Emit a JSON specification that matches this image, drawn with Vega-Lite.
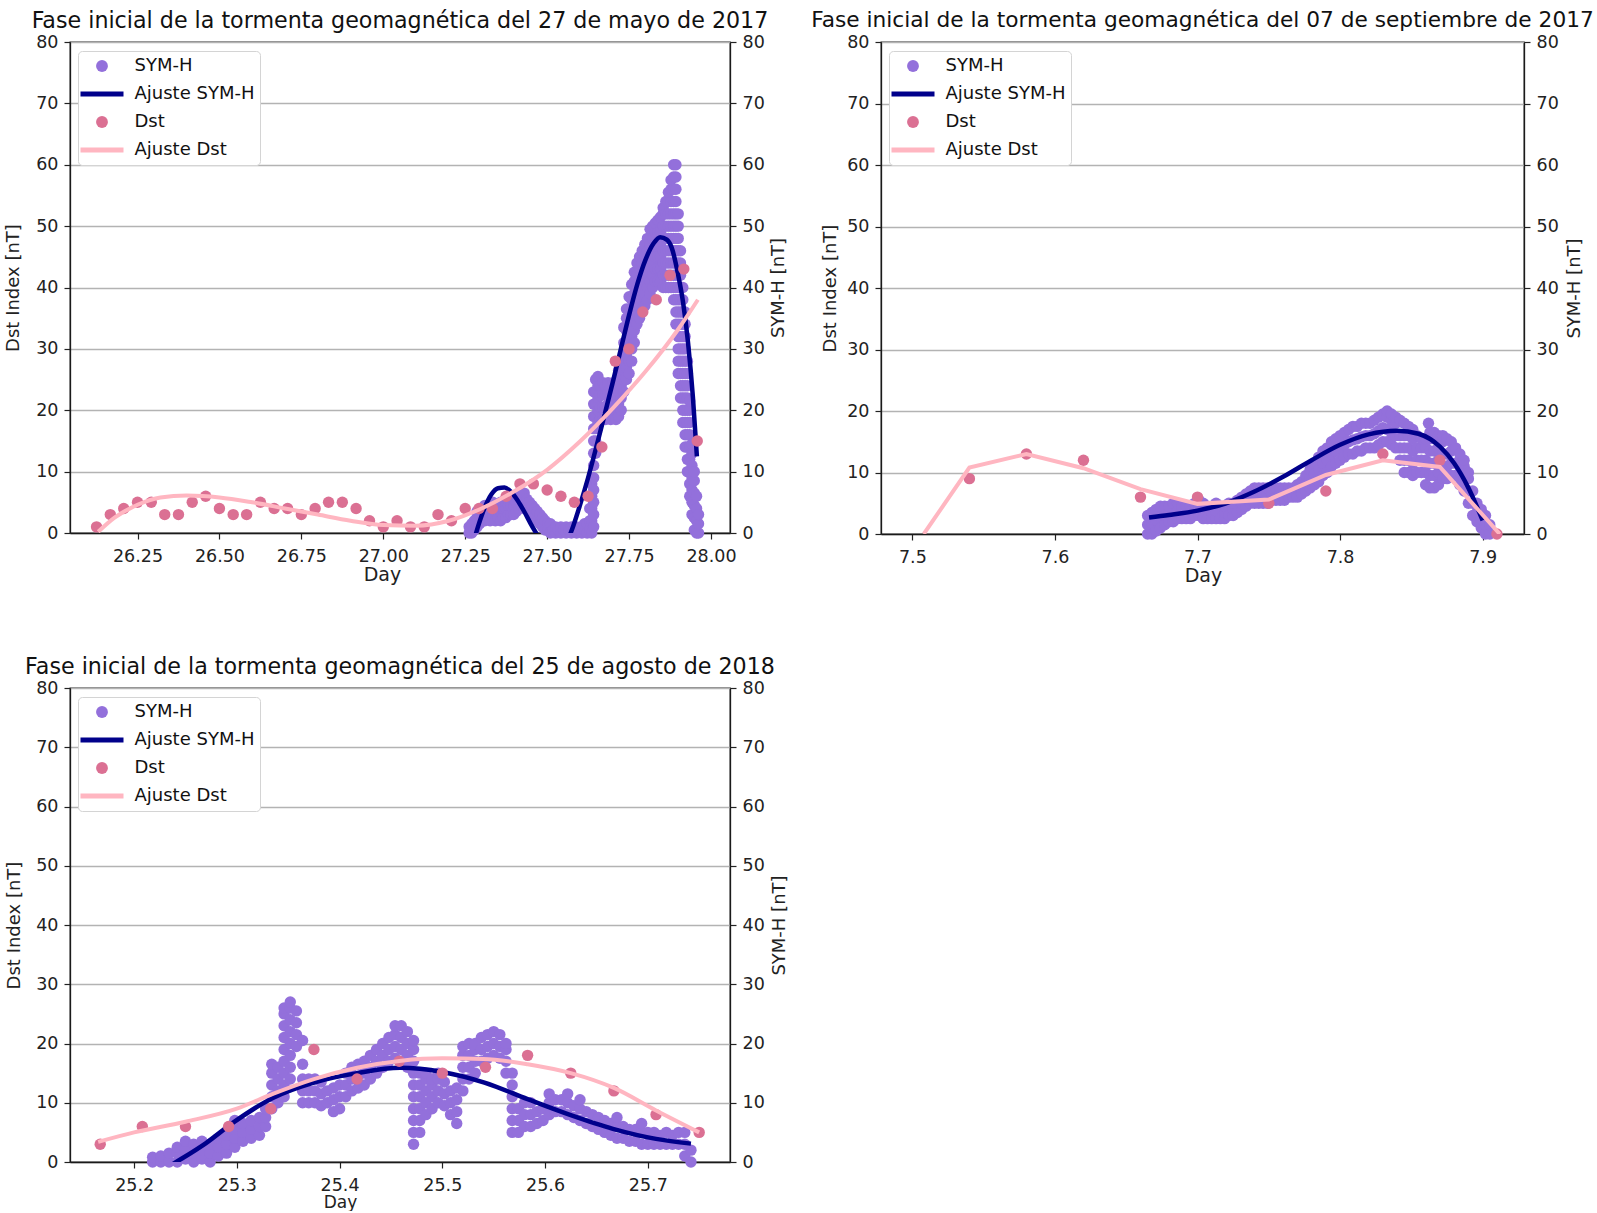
{
  "$schema": "https://vega.github.io/schema/vega-lite/v6.json",
  "background": "white",
  "padding": {"left": 3, "top": 9, "right": 2, "bottom": 0},
  "config": {
    "font": "DejaVu Sans",
    "view": {"stroke": "#1a1a1a", "strokeWidth": 1.3},
    "axis": {
      "labelFont": "DejaVu Sans", "labelFontSize": 17.5, "labelColor": "#222",
      "titleFont": "DejaVu Sans", "titleFontSize": 18, "titleFontWeight": "normal", "titleColor": "#222",
      "tickColor": "#222", "tickSize": 6, "tickWidth": 1.2,
      "domainColor": "#1a1a1a", "domainWidth": 1.3, "labelPadding": 6,
      "gridColor": "#b3b3b3", "gridWidth": 1.4, "gridOpacity": 1
    },
    "axisX": {"labelPadding": 8},
    "legend": {"labelFont": "DejaVu Sans", "labelFontSize": 18, "labelColor": "#111"},
    "title": {"font": "DejaVu Sans", "fontSize": 22.2, "fontWeight": "normal", "color": "#111", "offset": 1, "anchor": "middle"}
  },
  "datasets": {
    "mayo_symh": [
      {"day":27.262,"nT":0},{"day":27.262,"nT":1},{"day":27.27,"nT":0},{"day":27.27,"nT":1.5},{"day":27.278,"nT":0.5},{"day":27.278,"nT":2},
      {"day":27.286,"nT":1},{"day":27.286,"nT":2.5},{"day":27.286,"nT":3.5},{"day":27.294,"nT":1.5},{"day":27.294,"nT":3},
      {"day":27.302,"nT":2},{"day":27.302,"nT":3.5},{"day":27.31,"nT":2},{"day":27.31,"nT":3.5},{"day":27.31,"nT":4.5},
      {"day":27.318,"nT":2.5},{"day":27.318,"nT":4},{"day":27.326,"nT":2},{"day":27.326,"nT":3.5},
      {"day":27.334,"nT":2.5},{"day":27.334,"nT":4},{"day":27.334,"nT":5},{"day":27.342,"nT":2},{"day":27.342,"nT":3.5},{"day":27.342,"nT":4.5},
      {"day":27.35,"nT":2.5},{"day":27.35,"nT":4},{"day":27.358,"nT":2},{"day":27.358,"nT":3.5},{"day":27.358,"nT":5},
      {"day":27.366,"nT":2.5},{"day":27.366,"nT":4},{"day":27.374,"nT":2.5},{"day":27.374,"nT":4},{"day":27.374,"nT":5},
      {"day":27.382,"nT":3},{"day":27.382,"nT":4.5},{"day":27.39,"nT":3},{"day":27.39,"nT":4.5},
      {"day":27.398,"nT":3},{"day":27.398,"nT":4.5},{"day":27.398,"nT":5.5},{"day":27.406,"nT":3.5},{"day":27.406,"nT":5},
      {"day":27.414,"nT":4},{"day":27.414,"nT":5.5},{"day":27.414,"nT":6.5},{"day":27.422,"nT":4.5},{"day":27.422,"nT":6},
      {"day":27.43,"nT":4},{"day":27.43,"nT":5.5},{"day":27.43,"nT":6.5},{"day":27.438,"nT":4},{"day":27.438,"nT":5.5},
      {"day":27.446,"nT":3.5},{"day":27.446,"nT":5},{"day":27.454,"nT":3},{"day":27.454,"nT":4.5},
      {"day":27.462,"nT":2.5},{"day":27.462,"nT":4},{"day":27.47,"nT":2},{"day":27.47,"nT":3.5},
      {"day":27.478,"nT":1.5},{"day":27.478,"nT":3},{"day":27.486,"nT":1},{"day":27.486,"nT":2.5},
      {"day":27.494,"nT":0.5},{"day":27.494,"nT":2},{"day":27.502,"nT":0.5},{"day":27.502,"nT":1.5},
      {"day":27.51,"nT":0},{"day":27.51,"nT":1.5},{"day":27.518,"nT":0.5},{"day":27.526,"nT":0},{"day":27.526,"nT":1},
      {"day":27.534,"nT":0.5},{"day":27.542,"nT":0},{"day":27.542,"nT":1},{"day":27.55,"nT":0.5},{"day":27.558,"nT":0},{"day":27.558,"nT":1},
      {"day":27.566,"nT":0.5},{"day":27.574,"nT":0},{"day":27.574,"nT":1},{"day":27.582,"nT":0.5},{"day":27.59,"nT":0},{"day":27.59,"nT":1},
      {"day":27.598,"nT":0.5},{"day":27.606,"nT":0},{"day":27.606,"nT":1},{"day":27.614,"nT":0.5},{"day":27.614,"nT":1.5},
      {"day":27.622,"nT":0},{"day":27.622,"nT":1.5},{"day":27.63,"nT":0.5},{"day":27.63,"nT":2},{"day":27.63,"nT":4},
      {"day":27.636,"nT":0},{"day":27.636,"nT":2},{"day":27.636,"nT":4},{"day":27.636,"nT":6},{"day":27.636,"nT":8},
      {"day":27.642,"nT":1},{"day":27.642,"nT":3},{"day":27.642,"nT":5},{"day":27.642,"nT":7},{"day":27.642,"nT":9},{"day":27.642,"nT":11},{"day":27.642,"nT":13},{"day":27.642,"nT":15},{"day":27.642,"nT":17},{"day":27.642,"nT":19},{"day":27.642,"nT":21},{"day":27.642,"nT":23},
      {"day":27.648,"nT":13},{"day":27.648,"nT":15},{"day":27.648,"nT":17},{"day":27.648,"nT":19},{"day":27.648,"nT":21},{"day":27.648,"nT":23},{"day":27.648,"nT":25},
      {"day":27.655,"nT":18},{"day":27.655,"nT":20},{"day":27.655,"nT":22},{"day":27.655,"nT":24},{"day":27.655,"nT":25.5},
      {"day":27.662,"nT":18.5},{"day":27.662,"nT":20.5},{"day":27.662,"nT":22.5},{"day":27.662,"nT":24},
      {"day":27.67,"nT":18.5},{"day":27.67,"nT":20.5},{"day":27.67,"nT":22.5},{"day":27.67,"nT":24.5},
      {"day":27.678,"nT":18.5},{"day":27.678,"nT":20.5},{"day":27.678,"nT":22.5},{"day":27.678,"nT":24},
      {"day":27.686,"nT":19},{"day":27.686,"nT":21},{"day":27.686,"nT":23},{"day":27.686,"nT":24.5},
      {"day":27.694,"nT":18.5},{"day":27.694,"nT":20.5},{"day":27.694,"nT":22.5},
      {"day":27.702,"nT":19},{"day":27.702,"nT":21},{"day":27.702,"nT":23},{"day":27.702,"nT":24.5},
      {"day":27.71,"nT":18.5},{"day":27.71,"nT":20.5},{"day":27.71,"nT":22.5},{"day":27.71,"nT":24},
      {"day":27.718,"nT":19},{"day":27.718,"nT":21},{"day":27.718,"nT":23},{"day":27.718,"nT":25},{"day":27.718,"nT":26.5},
      {"day":27.726,"nT":20},{"day":27.726,"nT":22},{"day":27.726,"nT":24},{"day":27.726,"nT":26},{"day":27.726,"nT":28},
      {"day":27.734,"nT":23},{"day":27.734,"nT":25},{"day":27.734,"nT":27},{"day":27.734,"nT":29},{"day":27.734,"nT":31},{"day":27.734,"nT":33.5},
      {"day":27.742,"nT":25},{"day":27.742,"nT":27},{"day":27.742,"nT":29},{"day":27.742,"nT":31},{"day":27.742,"nT":33},{"day":27.742,"nT":35},{"day":27.742,"nT":36.5},
      {"day":27.75,"nT":26},{"day":27.75,"nT":28},{"day":27.75,"nT":30},{"day":27.75,"nT":32},{"day":27.75,"nT":34},{"day":27.75,"nT":36},{"day":27.75,"nT":38.5},
      {"day":27.758,"nT":28},{"day":27.758,"nT":30},{"day":27.758,"nT":32},{"day":27.758,"nT":34},{"day":27.758,"nT":36},{"day":27.758,"nT":38},{"day":27.758,"nT":40.5},
      {"day":27.766,"nT":31},{"day":27.766,"nT":33},{"day":27.766,"nT":35},{"day":27.766,"nT":37},{"day":27.766,"nT":39},{"day":27.766,"nT":41},{"day":27.766,"nT":42.5},
      {"day":27.774,"nT":34},{"day":27.774,"nT":36},{"day":27.774,"nT":38},{"day":27.774,"nT":40},{"day":27.774,"nT":42},{"day":27.774,"nT":44},
      {"day":27.782,"nT":35},{"day":27.782,"nT":37},{"day":27.782,"nT":39},{"day":27.782,"nT":41},{"day":27.782,"nT":43},{"day":27.782,"nT":45},
      {"day":27.79,"nT":36},{"day":27.79,"nT":38},{"day":27.79,"nT":40},{"day":27.79,"nT":42},{"day":27.79,"nT":44},{"day":27.79,"nT":46},
      {"day":27.798,"nT":37},{"day":27.798,"nT":39},{"day":27.798,"nT":41},{"day":27.798,"nT":43},{"day":27.798,"nT":45},{"day":27.798,"nT":47},
      {"day":27.806,"nT":38},{"day":27.806,"nT":40},{"day":27.806,"nT":42},{"day":27.806,"nT":44},{"day":27.806,"nT":46},{"day":27.806,"nT":48},
      {"day":27.814,"nT":39},{"day":27.814,"nT":41},{"day":27.814,"nT":43},{"day":27.814,"nT":45},{"day":27.814,"nT":47},{"day":27.814,"nT":49.5},
      {"day":27.822,"nT":40},{"day":27.822,"nT":42},{"day":27.822,"nT":44},{"day":27.822,"nT":46},{"day":27.822,"nT":48},{"day":27.822,"nT":50},
      {"day":27.83,"nT":41},{"day":27.83,"nT":43},{"day":27.83,"nT":45},{"day":27.83,"nT":47},{"day":27.83,"nT":49},{"day":27.83,"nT":50.5},
      {"day":27.838,"nT":41},{"day":27.838,"nT":43},{"day":27.838,"nT":45},{"day":27.838,"nT":47},{"day":27.838,"nT":49},{"day":27.838,"nT":51},
      {"day":27.846,"nT":41},{"day":27.846,"nT":43},{"day":27.846,"nT":45},{"day":27.846,"nT":47},{"day":27.846,"nT":49},{"day":27.846,"nT":51.5},
      {"day":27.854,"nT":40},{"day":27.854,"nT":42},{"day":27.854,"nT":44},{"day":27.854,"nT":46},{"day":27.854,"nT":48},{"day":27.854,"nT":50},{"day":27.854,"nT":52},{"day":27.854,"nT":53},
      {"day":27.862,"nT":40},{"day":27.862,"nT":42},{"day":27.862,"nT":44},{"day":27.862,"nT":46},{"day":27.862,"nT":48},{"day":27.862,"nT":50},{"day":27.862,"nT":52},{"day":27.862,"nT":54},
      {"day":27.87,"nT":40},{"day":27.87,"nT":42},{"day":27.87,"nT":44},{"day":27.87,"nT":46},{"day":27.87,"nT":48},{"day":27.87,"nT":50},{"day":27.87,"nT":52},{"day":27.87,"nT":54},{"day":27.87,"nT":55.5},
      {"day":27.878,"nT":40},{"day":27.878,"nT":42},{"day":27.878,"nT":44},{"day":27.878,"nT":46},{"day":27.878,"nT":48},{"day":27.878,"nT":50},{"day":27.878,"nT":52},{"day":27.878,"nT":54},{"day":27.878,"nT":56},{"day":27.878,"nT":57.5},
      {"day":27.886,"nT":38},{"day":27.886,"nT":40},{"day":27.886,"nT":42},{"day":27.886,"nT":44},{"day":27.886,"nT":46},{"day":27.886,"nT":48},{"day":27.886,"nT":50},{"day":27.886,"nT":52},{"day":27.886,"nT":54},{"day":27.886,"nT":56},{"day":27.886,"nT":58},{"day":27.886,"nT":60},
      {"day":27.893,"nT":34},{"day":27.893,"nT":36},{"day":27.893,"nT":38},{"day":27.893,"nT":40},{"day":27.893,"nT":42},{"day":27.893,"nT":44},{"day":27.893,"nT":46},{"day":27.893,"nT":48},{"day":27.893,"nT":50},{"day":27.893,"nT":52},{"day":27.893,"nT":54},{"day":27.893,"nT":56},{"day":27.893,"nT":58},{"day":27.893,"nT":60},
      {"day":27.9,"nT":26},{"day":27.9,"nT":28},{"day":27.9,"nT":30},{"day":27.9,"nT":32},{"day":27.9,"nT":34},{"day":27.9,"nT":36},{"day":27.9,"nT":38},{"day":27.9,"nT":40},{"day":27.9,"nT":42},{"day":27.9,"nT":44},{"day":27.9,"nT":46},{"day":27.9,"nT":48},{"day":27.9,"nT":50},{"day":27.9,"nT":52},
      {"day":27.907,"nT":22},{"day":27.907,"nT":24},{"day":27.907,"nT":26},{"day":27.907,"nT":28},{"day":27.907,"nT":30},{"day":27.907,"nT":32},{"day":27.907,"nT":34},{"day":27.907,"nT":36},{"day":27.907,"nT":38},{"day":27.907,"nT":40},{"day":27.907,"nT":42},{"day":27.907,"nT":44},{"day":27.907,"nT":46},
      {"day":27.914,"nT":18},{"day":27.914,"nT":20},{"day":27.914,"nT":22},{"day":27.914,"nT":24},{"day":27.914,"nT":26},{"day":27.914,"nT":28},{"day":27.914,"nT":30},{"day":27.914,"nT":32},{"day":27.914,"nT":34},{"day":27.914,"nT":36},{"day":27.914,"nT":38},{"day":27.914,"nT":40},
      {"day":27.921,"nT":14},{"day":27.921,"nT":16},{"day":27.921,"nT":18},{"day":27.921,"nT":20},{"day":27.921,"nT":22},{"day":27.921,"nT":24},{"day":27.921,"nT":26},{"day":27.921,"nT":28},{"day":27.921,"nT":30},{"day":27.921,"nT":32},{"day":27.921,"nT":34},{"day":27.921,"nT":36},
      {"day":27.928,"nT":10},{"day":27.928,"nT":12},{"day":27.928,"nT":14},{"day":27.928,"nT":16},{"day":27.928,"nT":18},{"day":27.928,"nT":20},{"day":27.928,"nT":22},{"day":27.928,"nT":24},{"day":27.928,"nT":26},{"day":27.928,"nT":28},
      {"day":27.935,"nT":6},{"day":27.935,"nT":8},{"day":27.935,"nT":10},{"day":27.935,"nT":12},{"day":27.935,"nT":14},{"day":27.935,"nT":16},{"day":27.935,"nT":18},{"day":27.935,"nT":20},{"day":27.935,"nT":21.5},
      {"day":27.942,"nT":3},{"day":27.942,"nT":5},{"day":27.942,"nT":7},{"day":27.942,"nT":9},{"day":27.942,"nT":11},{"day":27.942,"nT":13},{"day":27.942,"nT":14.5},
      {"day":27.949,"nT":0.5},{"day":27.949,"nT":2.5},{"day":27.949,"nT":4.5},{"day":27.949,"nT":6.5},{"day":27.949,"nT":8.5},{"day":27.949,"nT":10},
      {"day":27.956,"nT":0},{"day":27.956,"nT":2},{"day":27.956,"nT":4},{"day":27.956,"nT":6},{"day":27.962,"nT":0},{"day":27.962,"nT":1.5},{"day":27.962,"nT":3}
    ],
    "mayo_symh_ajuste": [
      {"day":27.26,"nT":-4},{"day":27.275,"nT":-1.5},{"day":27.29,"nT":1.2},{"day":27.31,"nT":4.2},{"day":27.33,"nT":6.3},
      {"day":27.35,"nT":7.3},{"day":27.37,"nT":7.4},{"day":27.39,"nT":6.7},{"day":27.41,"nT":5.3},{"day":27.43,"nT":3.5},
      {"day":27.45,"nT":1.5},{"day":27.47,"nT":-0.3},{"day":27.5,"nT":-2.5},{"day":27.53,"nT":-3.3},{"day":27.56,"nT":-1.5},
      {"day":27.58,"nT":1.2},{"day":27.6,"nT":4.5},{"day":27.625,"nT":9},{"day":27.65,"nT":14},{"day":27.675,"nT":19.2},
      {"day":27.7,"nT":24.5},{"day":27.725,"nT":30},{"day":27.75,"nT":35.5},{"day":27.775,"nT":40.5},{"day":27.8,"nT":44.5},
      {"day":27.825,"nT":47.2},{"day":27.845,"nT":48.2},{"day":27.865,"nT":47.8},{"day":27.88,"nT":46.5},{"day":27.9,"nT":42},
      {"day":27.915,"nT":37.5},{"day":27.93,"nT":31},{"day":27.945,"nT":22},{"day":27.957,"nT":12.5}
    ],
    "mayo_dst": [
      {"day":26.125,"nT":1},{"day":26.167,"nT":3},{"day":26.208,"nT":4},{"day":26.25,"nT":5},{"day":26.292,"nT":5},
      {"day":26.333,"nT":3},{"day":26.375,"nT":3},{"day":26.417,"nT":5},{"day":26.458,"nT":6},{"day":26.5,"nT":4},
      {"day":26.542,"nT":3},{"day":26.583,"nT":3},{"day":26.625,"nT":5},{"day":26.667,"nT":4},{"day":26.708,"nT":4},
      {"day":26.75,"nT":3},{"day":26.792,"nT":4},{"day":26.833,"nT":5},{"day":26.875,"nT":5},{"day":26.917,"nT":4},
      {"day":26.958,"nT":2},{"day":27.0,"nT":1},{"day":27.042,"nT":2},{"day":27.083,"nT":1},{"day":27.125,"nT":1},
      {"day":27.167,"nT":3},{"day":27.208,"nT":2},{"day":27.25,"nT":4},{"day":27.292,"nT":4},{"day":27.333,"nT":4},
      {"day":27.375,"nT":6},{"day":27.417,"nT":8},{"day":27.458,"nT":8},{"day":27.5,"nT":7},{"day":27.542,"nT":6},
      {"day":27.583,"nT":5},{"day":27.625,"nT":6},{"day":27.667,"nT":14},{"day":27.708,"nT":28},{"day":27.75,"nT":30},
      {"day":27.792,"nT":36},{"day":27.833,"nT":38},{"day":27.875,"nT":42},{"day":27.917,"nT":43},{"day":27.958,"nT":15}
    ],
    "mayo_dst_ajuste": [
      {"day":26.13,"nT":0.2},{"day":26.18,"nT":2.5},{"day":26.25,"nT":4.6},{"day":26.32,"nT":5.8},{"day":26.4,"nT":6.1},
      {"day":26.5,"nT":5.8},{"day":26.6,"nT":5.0},{"day":26.7,"nT":4.0},{"day":26.8,"nT":3.0},{"day":26.9,"nT":2.0},
      {"day":27.0,"nT":1.3},{"day":27.1,"nT":1.2},{"day":27.2,"nT":2.0},{"day":27.3,"nT":4.0},{"day":27.4,"nT":6.8},
      {"day":27.5,"nT":10.3},{"day":27.6,"nT":14.9},{"day":27.7,"nT":20.3},{"day":27.8,"nT":26.3},{"day":27.9,"nT":33.2},
      {"day":27.96,"nT":38}
    ],
    "sept_symh": [
      {"day":7.665,"nT":0},{"day":7.665,"nT":1.5},{"day":7.665,"nT":3},{"day":7.668,"nT":0},{"day":7.668,"nT":1.8},{"day":7.668,"nT":3.5},
      {"day":7.671,"nT":0.5},{"day":7.671,"nT":2.3},{"day":7.671,"nT":4},{"day":7.674,"nT":1},{"day":7.674,"nT":2.8},{"day":7.674,"nT":4.5},
      {"day":7.677,"nT":1.5},{"day":7.677,"nT":3},{"day":7.677,"nT":4.5},{"day":7.68,"nT":2},{"day":7.68,"nT":3.3},{"day":7.68,"nT":4.5},
      {"day":7.683,"nT":2},{"day":7.683,"nT":3.5},{"day":7.683,"nT":5},{"day":7.686,"nT":2.5},{"day":7.686,"nT":3.8},{"day":7.686,"nT":5},
      {"day":7.689,"nT":2.5},{"day":7.689,"nT":3.5},{"day":7.689,"nT":4.5},{"day":7.692,"nT":2.5},{"day":7.692,"nT":4.5},
      {"day":7.695,"nT":2.5},{"day":7.695,"nT":3.5},{"day":7.695,"nT":4.5},{"day":7.698,"nT":3},{"day":7.698,"nT":5},
      {"day":7.701,"nT":3},{"day":7.701,"nT":4.3},{"day":7.701,"nT":5.5},{"day":7.704,"nT":2.5},{"day":7.704,"nT":3.8},{"day":7.704,"nT":5},
      {"day":7.707,"nT":2.5},{"day":7.707,"nT":4.5},{"day":7.71,"nT":2.5},{"day":7.71,"nT":3.5},{"day":7.71,"nT":4.5},
      {"day":7.713,"nT":2.5},{"day":7.713,"nT":3.8},{"day":7.713,"nT":5},{"day":7.716,"nT":2.5},{"day":7.716,"nT":4.5},
      {"day":7.719,"nT":2.5},{"day":7.719,"nT":3.5},{"day":7.719,"nT":4.5},{"day":7.722,"nT":3},{"day":7.722,"nT":5},
      {"day":7.725,"nT":3},{"day":7.725,"nT":4},{"day":7.725,"nT":5},{"day":7.728,"nT":3.5},{"day":7.728,"nT":5.5},
      {"day":7.731,"nT":4},{"day":7.731,"nT":5},{"day":7.731,"nT":6},{"day":7.734,"nT":4.5},{"day":7.734,"nT":6.5},
      {"day":7.737,"nT":5},{"day":7.737,"nT":6},{"day":7.737,"nT":7},{"day":7.74,"nT":5},{"day":7.74,"nT":6.3},{"day":7.74,"nT":7.5},
      {"day":7.743,"nT":5},{"day":7.743,"nT":7.5},{"day":7.746,"nT":5},{"day":7.746,"nT":6.3},{"day":7.746,"nT":7.5},
      {"day":7.749,"nT":5},{"day":7.749,"nT":7.5},{"day":7.752,"nT":5.5},{"day":7.752,"nT":6.5},{"day":7.752,"nT":7.5},
      {"day":7.755,"nT":5.5},{"day":7.755,"nT":7.5},{"day":7.758,"nT":5.5},{"day":7.758,"nT":6.5},{"day":7.758,"nT":7.5},
      {"day":7.761,"nT":5.5},{"day":7.761,"nT":7.5},{"day":7.764,"nT":6},{"day":7.764,"nT":7.5},{"day":7.767,"nT":6},{"day":7.767,"nT":7.5},
      {"day":7.77,"nT":6},{"day":7.77,"nT":8},{"day":7.773,"nT":6.5},{"day":7.773,"nT":8.5},
      {"day":7.776,"nT":7},{"day":7.776,"nT":8.3},{"day":7.776,"nT":9.5},{"day":7.779,"nT":7.5},{"day":7.779,"nT":9},{"day":7.779,"nT":10.5},
      {"day":7.782,"nT":8},{"day":7.782,"nT":9.8},{"day":7.782,"nT":11.5},{"day":7.785,"nT":8.5},{"day":7.785,"nT":10.5},{"day":7.785,"nT":12.5},
      {"day":7.788,"nT":9.5},{"day":7.788,"nT":11.5},{"day":7.788,"nT":13.5},{"day":7.791,"nT":10},{"day":7.791,"nT":12},{"day":7.791,"nT":14},
      {"day":7.794,"nT":11},{"day":7.794,"nT":13},{"day":7.794,"nT":15},{"day":7.797,"nT":11.5},{"day":7.797,"nT":13.5},{"day":7.797,"nT":15.5},
      {"day":7.8,"nT":12},{"day":7.8,"nT":14},{"day":7.8,"nT":16},{"day":7.803,"nT":12.5},{"day":7.803,"nT":14.5},{"day":7.803,"nT":16.5},
      {"day":7.806,"nT":13},{"day":7.806,"nT":15},{"day":7.806,"nT":17},{"day":7.809,"nT":13},{"day":7.809,"nT":15.3},{"day":7.809,"nT":17.5},
      {"day":7.812,"nT":13.5},{"day":7.812,"nT":15.5},{"day":7.812,"nT":17.5},{"day":7.815,"nT":13.5},{"day":7.815,"nT":15.8},{"day":7.815,"nT":18},
      {"day":7.818,"nT":14},{"day":7.818,"nT":16},{"day":7.818,"nT":18},{"day":7.821,"nT":14},{"day":7.821,"nT":16},{"day":7.821,"nT":18},
      {"day":7.824,"nT":14},{"day":7.824,"nT":16.3},{"day":7.824,"nT":18.5},{"day":7.827,"nT":14.5},{"day":7.827,"nT":16.8},{"day":7.827,"nT":19},
      {"day":7.83,"nT":15},{"day":7.83,"nT":17.3},{"day":7.83,"nT":19.5},{"day":7.833,"nT":15},{"day":7.833,"nT":17},{"day":7.833,"nT":19},{"day":7.833,"nT":20},
      {"day":7.836,"nT":14.5},{"day":7.836,"nT":16.5},{"day":7.836,"nT":18.5},{"day":7.836,"nT":19.5},
      {"day":7.839,"nT":14},{"day":7.839,"nT":16},{"day":7.839,"nT":18},{"day":7.839,"nT":19},
      {"day":7.842,"nT":12},{"day":7.842,"nT":14},{"day":7.842,"nT":16},{"day":7.842,"nT":18.5},
      {"day":7.845,"nT":10},{"day":7.845,"nT":12},{"day":7.845,"nT":14},{"day":7.845,"nT":16},{"day":7.845,"nT":18},
      {"day":7.848,"nT":10},{"day":7.848,"nT":12},{"day":7.848,"nT":14},{"day":7.848,"nT":16},{"day":7.848,"nT":17.5},
      {"day":7.851,"nT":9.5},{"day":7.851,"nT":11.5},{"day":7.851,"nT":13.5},{"day":7.851,"nT":15.5},{"day":7.851,"nT":17},
      {"day":7.854,"nT":10},{"day":7.854,"nT":12},{"day":7.854,"nT":14},{"day":7.854,"nT":16},
      {"day":7.857,"nT":10},{"day":7.857,"nT":12},{"day":7.857,"nT":14},{"day":7.857,"nT":15.5},
      {"day":7.86,"nT":8},{"day":7.86,"nT":10},{"day":7.86,"nT":12},{"day":7.86,"nT":14},{"day":7.86,"nT":15.5},{"day":7.862,"nT":18},
      {"day":7.863,"nT":7.5},{"day":7.863,"nT":9.5},{"day":7.863,"nT":11.5},{"day":7.863,"nT":13.5},{"day":7.863,"nT":15.5},{"day":7.863,"nT":16.5},
      {"day":7.866,"nT":7.5},{"day":7.866,"nT":9.5},{"day":7.866,"nT":11.5},{"day":7.866,"nT":13.5},{"day":7.866,"nT":15.5},{"day":7.866,"nT":16.5},
      {"day":7.869,"nT":8},{"day":7.869,"nT":10},{"day":7.869,"nT":12},{"day":7.869,"nT":14},{"day":7.869,"nT":16},
      {"day":7.872,"nT":9},{"day":7.872,"nT":11},{"day":7.872,"nT":13},{"day":7.872,"nT":15},{"day":7.872,"nT":16},
      {"day":7.875,"nT":9},{"day":7.875,"nT":11},{"day":7.875,"nT":13},{"day":7.875,"nT":15.5},
      {"day":7.878,"nT":9.5},{"day":7.878,"nT":11.5},{"day":7.878,"nT":13.5},{"day":7.878,"nT":15},
      {"day":7.881,"nT":9.5},{"day":7.881,"nT":11.5},{"day":7.881,"nT":14},
      {"day":7.884,"nT":8},{"day":7.884,"nT":10},{"day":7.884,"nT":12},{"day":7.884,"nT":13},
      {"day":7.887,"nT":7},{"day":7.887,"nT":9},{"day":7.887,"nT":11},{"day":7.887,"nT":12},
      {"day":7.89,"nT":5},{"day":7.89,"nT":7},{"day":7.89,"nT":9},{"day":7.89,"nT":10},
      {"day":7.893,"nT":3},{"day":7.893,"nT":5},{"day":7.893,"nT":7},{"day":7.896,"nT":2},{"day":7.896,"nT":3.5},{"day":7.896,"nT":5},
      {"day":7.899,"nT":1},{"day":7.899,"nT":2.5},{"day":7.899,"nT":4},{"day":7.902,"nT":0},{"day":7.902,"nT":1.5},{"day":7.902,"nT":3},
      {"day":7.905,"nT":0},{"day":7.905,"nT":1.5}
    ],
    "sept_symh_ajuste": [
      {"day":7.666,"nT":2.7},{"day":7.68,"nT":3.1},{"day":7.7,"nT":3.8},{"day":7.72,"nT":5},{"day":7.74,"nT":6.9},
      {"day":7.76,"nT":9.3},{"day":7.78,"nT":12},{"day":7.8,"nT":14.5},{"day":7.82,"nT":16.2},{"day":7.84,"nT":16.8},
      {"day":7.855,"nT":16.3},{"day":7.87,"nT":14.2},{"day":7.88,"nT":11.5},{"day":7.89,"nT":7.5},{"day":7.9,"nT":2.2}
    ],
    "sept_dst": [
      {"day":7.54,"nT":9},{"day":7.58,"nT":13},{"day":7.62,"nT":12},{"day":7.66,"nT":6},{"day":7.7,"nT":6},
      {"day":7.75,"nT":5},{"day":7.79,"nT":7},{"day":7.83,"nT":13},{"day":7.87,"nT":12},{"day":7.91,"nT":0}
    ],
    "sept_dst_ajuste": [
      {"day":7.508,"nT":0},{"day":7.54,"nT":10.8},{"day":7.58,"nT":13},{"day":7.62,"nT":10.7},{"day":7.66,"nT":7.3},
      {"day":7.7,"nT":4.9},{"day":7.75,"nT":5.6},{"day":7.79,"nT":9.6},{"day":7.83,"nT":12},{"day":7.87,"nT":10.9},{"day":7.912,"nT":0}
    ],
    "ago_symh": [
      {"day":25.218,"nT":0},{"day":25.218,"nT":0.8},{"day":25.226,"nT":0},{"day":25.226,"nT":1},{"day":25.234,"nT":0},{"day":25.234,"nT":1.5},
      {"day":25.242,"nT":0},{"day":25.242,"nT":1.5},{"day":25.242,"nT":2.5},{"day":25.25,"nT":0.5},{"day":25.25,"nT":2},{"day":25.25,"nT":3.5},
      {"day":25.258,"nT":0},{"day":25.258,"nT":1.5},{"day":25.258,"nT":3},{"day":25.266,"nT":0.5},{"day":25.266,"nT":2},{"day":25.266,"nT":3.5},
      {"day":25.274,"nT":0},{"day":25.274,"nT":1.5},{"day":25.274,"nT":3},{"day":25.282,"nT":1},{"day":25.282,"nT":2.5},{"day":25.282,"nT":4},
      {"day":25.29,"nT":1.5},{"day":25.29,"nT":3},{"day":25.29,"nT":4.5},{"day":25.298,"nT":2.5},{"day":25.298,"nT":4},{"day":25.298,"nT":5.5},{"day":25.298,"nT":7},
      {"day":25.306,"nT":3.5},{"day":25.306,"nT":5},{"day":25.306,"nT":6.5},{"day":25.314,"nT":4},{"day":25.314,"nT":5.5},{"day":25.314,"nT":7},
      {"day":25.322,"nT":4.5},{"day":25.322,"nT":6},{"day":25.322,"nT":7.5},{"day":25.328,"nT":6},{"day":25.328,"nT":7.5},{"day":25.328,"nT":9},
      {"day":25.334,"nT":9},{"day":25.334,"nT":11},{"day":25.334,"nT":13},{"day":25.334,"nT":15},{"day":25.334,"nT":16.5},
      {"day":25.34,"nT":10},{"day":25.34,"nT":12},{"day":25.34,"nT":14},{"day":25.34,"nT":16},
      {"day":25.346,"nT":11},{"day":25.346,"nT":13},{"day":25.346,"nT":15},{"day":25.346,"nT":17},{"day":25.346,"nT":19},{"day":25.346,"nT":21},{"day":25.346,"nT":23},{"day":25.346,"nT":25},{"day":25.346,"nT":26},
      {"day":25.352,"nT":14},{"day":25.352,"nT":16},{"day":25.352,"nT":18},{"day":25.352,"nT":20},{"day":25.352,"nT":22},{"day":25.352,"nT":24},{"day":25.352,"nT":26},{"day":25.352,"nT":27},
      {"day":25.358,"nT":19.5},{"day":25.358,"nT":21.5},{"day":25.358,"nT":23.5},{"day":25.358,"nT":25.5},
      {"day":25.364,"nT":10},{"day":25.364,"nT":12},{"day":25.364,"nT":14},{"day":25.364,"nT":16.5},{"day":25.364,"nT":20.5},
      {"day":25.37,"nT":10},{"day":25.37,"nT":12},{"day":25.37,"nT":14},{"day":25.376,"nT":10},{"day":25.376,"nT":12},{"day":25.376,"nT":14},
      {"day":25.382,"nT":9.5},{"day":25.382,"nT":11.5},{"day":25.382,"nT":13.5},{"day":25.388,"nT":10},{"day":25.388,"nT":12},
      {"day":25.394,"nT":8.5},{"day":25.394,"nT":10.5},{"day":25.394,"nT":12.5},{"day":25.4,"nT":9},{"day":25.4,"nT":11},{"day":25.4,"nT":13},
      {"day":25.406,"nT":11},{"day":25.406,"nT":13},{"day":25.406,"nT":15},{"day":25.412,"nT":12},{"day":25.412,"nT":14},{"day":25.412,"nT":16},
      {"day":25.418,"nT":12.5},{"day":25.418,"nT":14.5},{"day":25.418,"nT":16.5},{"day":25.424,"nT":13},{"day":25.424,"nT":15},{"day":25.424,"nT":17},
      {"day":25.43,"nT":14},{"day":25.43,"nT":16},{"day":25.43,"nT":18},{"day":25.436,"nT":15},{"day":25.436,"nT":17},{"day":25.436,"nT":19},
      {"day":25.442,"nT":16},{"day":25.442,"nT":18},{"day":25.442,"nT":20},{"day":25.448,"nT":17},{"day":25.448,"nT":19},{"day":25.448,"nT":21},
      {"day":25.454,"nT":17.5},{"day":25.454,"nT":19.5},{"day":25.454,"nT":21.5},{"day":25.454,"nT":23},
      {"day":25.46,"nT":17},{"day":25.46,"nT":19},{"day":25.46,"nT":21},{"day":25.46,"nT":23},
      {"day":25.466,"nT":16},{"day":25.466,"nT":18},{"day":25.466,"nT":20},{"day":25.466,"nT":22},
      {"day":25.472,"nT":3},{"day":25.472,"nT":5},{"day":25.472,"nT":7},{"day":25.472,"nT":9},{"day":25.472,"nT":11},{"day":25.472,"nT":13},{"day":25.472,"nT":15},{"day":25.472,"nT":17},{"day":25.472,"nT":19},{"day":25.472,"nT":20.5},
      {"day":25.478,"nT":5},{"day":25.478,"nT":7},{"day":25.478,"nT":9},{"day":25.478,"nT":11},{"day":25.478,"nT":13},{"day":25.478,"nT":15},
      {"day":25.484,"nT":8},{"day":25.484,"nT":10},{"day":25.484,"nT":12},{"day":25.484,"nT":14},{"day":25.484,"nT":15},
      {"day":25.49,"nT":9},{"day":25.49,"nT":11},{"day":25.49,"nT":13},{"day":25.49,"nT":14},
      {"day":25.496,"nT":10},{"day":25.496,"nT":12},{"day":25.496,"nT":14},{"day":25.496,"nT":15},
      {"day":25.502,"nT":9.5},{"day":25.502,"nT":11.5},{"day":25.502,"nT":13.5},{"day":25.508,"nT":8},{"day":25.508,"nT":10},{"day":25.508,"nT":12},
      {"day":25.514,"nT":6.5},{"day":25.514,"nT":8.5},{"day":25.514,"nT":10.5},{"day":25.514,"nT":12.5},
      {"day":25.52,"nT":12},{"day":25.52,"nT":14},{"day":25.52,"nT":16},{"day":25.52,"nT":18},{"day":25.52,"nT":19.5},
      {"day":25.526,"nT":14},{"day":25.526,"nT":16},{"day":25.526,"nT":18},{"day":25.526,"nT":20},
      {"day":25.532,"nT":15},{"day":25.532,"nT":17},{"day":25.532,"nT":19},{"day":25.532,"nT":20},
      {"day":25.538,"nT":17},{"day":25.538,"nT":19},{"day":25.538,"nT":21},{"day":25.544,"nT":17.5},{"day":25.544,"nT":19.5},{"day":25.544,"nT":21.5},
      {"day":25.55,"nT":18},{"day":25.55,"nT":20},{"day":25.55,"nT":22},{"day":25.556,"nT":17.5},{"day":25.556,"nT":19.5},{"day":25.556,"nT":21.5},
      {"day":25.562,"nT":15},{"day":25.562,"nT":17},{"day":25.562,"nT":19},{"day":25.562,"nT":20},
      {"day":25.568,"nT":5},{"day":25.568,"nT":7},{"day":25.568,"nT":9},{"day":25.568,"nT":11},{"day":25.568,"nT":13},{"day":25.568,"nT":15},
      {"day":25.574,"nT":5},{"day":25.574,"nT":7},{"day":25.574,"nT":9},{"day":25.58,"nT":6},{"day":25.58,"nT":8},{"day":25.58,"nT":10},
      {"day":25.586,"nT":6},{"day":25.586,"nT":8},{"day":25.586,"nT":10},{"day":25.592,"nT":6.5},{"day":25.592,"nT":8.5},
      {"day":25.598,"nT":7},{"day":25.598,"nT":9},{"day":25.604,"nT":8},{"day":25.604,"nT":10},{"day":25.604,"nT":11.5},
      {"day":25.61,"nT":8.5},{"day":25.61,"nT":10.5},{"day":25.616,"nT":8.5},{"day":25.616,"nT":10.5},
      {"day":25.622,"nT":8},{"day":25.622,"nT":10},{"day":25.622,"nT":11.5},{"day":25.628,"nT":7.5},{"day":25.628,"nT":9.5},
      {"day":25.634,"nT":7},{"day":25.634,"nT":9},{"day":25.634,"nT":10.5},{"day":25.64,"nT":6.5},{"day":25.64,"nT":8.5},
      {"day":25.646,"nT":6},{"day":25.646,"nT":8},{"day":25.652,"nT":5.5},{"day":25.652,"nT":7.5},
      {"day":25.658,"nT":5},{"day":25.658,"nT":7},{"day":25.664,"nT":4.5},{"day":25.664,"nT":6.5},
      {"day":25.67,"nT":4},{"day":25.67,"nT":6},{"day":25.67,"nT":7.5},{"day":25.676,"nT":4},{"day":25.676,"nT":6},
      {"day":25.682,"nT":3.5},{"day":25.682,"nT":5.5},{"day":25.688,"nT":3.5},{"day":25.688,"nT":5.5},
      {"day":25.694,"nT":3},{"day":25.694,"nT":5},{"day":25.694,"nT":6.5},{"day":25.7,"nT":3},{"day":25.7,"nT":5},
      {"day":25.706,"nT":3},{"day":25.706,"nT":5},{"day":25.712,"nT":3},{"day":25.712,"nT":4.5},
      {"day":25.718,"nT":3},{"day":25.718,"nT":5},{"day":25.724,"nT":3},{"day":25.724,"nT":4.5},
      {"day":25.73,"nT":3},{"day":25.73,"nT":5},{"day":25.736,"nT":1},{"day":25.736,"nT":3},{"day":25.736,"nT":5},
      {"day":25.742,"nT":0},{"day":25.742,"nT":2}
    ],
    "ago_symh_ajuste": [
      {"day":25.22,"nT":-2.2},{"day":25.241,"nT":0},{"day":25.27,"nT":3.2},{"day":25.296,"nT":6.6},{"day":25.335,"nT":10.8},
      {"day":25.375,"nT":13.4},{"day":25.417,"nT":15.0},{"day":25.459,"nT":15.9},{"day":25.5,"nT":15.2},{"day":25.541,"nT":13.4},
      {"day":25.583,"nT":10.6},{"day":25.625,"nT":7.9},{"day":25.666,"nT":5.6},{"day":25.708,"nT":3.9},{"day":25.742,"nT":3.1}
    ],
    "ago_dst": [
      {"day":25.167,"nT":3},{"day":25.208,"nT":6},{"day":25.25,"nT":6},{"day":25.292,"nT":6},{"day":25.333,"nT":9},
      {"day":25.375,"nT":19},{"day":25.417,"nT":14},{"day":25.458,"nT":17},{"day":25.5,"nT":15},{"day":25.542,"nT":16},
      {"day":25.583,"nT":18},{"day":25.625,"nT":15},{"day":25.667,"nT":12},{"day":25.708,"nT":8},{"day":25.75,"nT":5}
    ],
    "ago_dst_ajuste": [
      {"day":25.165,"nT":3.4},{"day":25.2,"nT":5.0},{"day":25.25,"nT":6.8},{"day":25.3,"nT":9.0},{"day":25.335,"nT":11.5},
      {"day":25.375,"nT":14.0},{"day":25.417,"nT":15.9},{"day":25.46,"nT":17.1},{"day":25.5,"nT":17.5},{"day":25.54,"nT":17.4},
      {"day":25.583,"nT":16.5},{"day":25.625,"nT":15.0},{"day":25.667,"nT":12.5},{"day":25.708,"nT":8.7},{"day":25.75,"nT":5.0}
    ]
  },
  "columns": 2,
  "bounds": "flush",
  "spacing": {"row": 154, "column": 151},
  "resolve": {"scale": {"color": "independent", "stroke": "independent"}},
  "concat": [
    {
      "width": 660, "height": 491,
      "title": "Fase inicial de la tormenta geomagnética del 27 de mayo de 2017",
      "layer": [
        {"layer": [
          {"data": {"name": "mayo_symh"}, "mark": {"type": "circle", "size": 130, "opacity": 1},
           "encoding": {
             "x": {"field": "day", "type": "quantitative", "scale": {"domain": [26.044, 28.058], "nice": false, "zero": false}, "axis": {"title": "Day", "values": [26.25, 26.5, 26.75, 27, 27.25, 27.5, 27.75, 28], "format": ".2f", "grid": false, "titleX": 312, "titleY": 41, "titleBaseline": "middle", "titleFontSize": 19}},
             "y": {"field": "nT", "type": "quantitative", "scale": {"domain": [0, 80], "nice": false}, "axis": {"orient": "right", "title": "SYM-H [nT]", "values": [0, 10, 20, 30, 40, 50, 60, 70, 80], "grid": false, "titleAngle": 270, "titleX": 48, "titleY": 245.5, "titleBaseline": "middle"}},
             "color": {"datum": "SYM-H", "type": "nominal", "scale": {"domain": ["SYM-H", "Ajuste SYM-H", "Dst", "Ajuste Dst"], "range": ["#9370db", "transparent", "#db7093", "transparent"]},
               "legend": {"orient": "none", "legendX": 8, "legendY": 9, "title": null, "symbolType": "circle", "symbolSize": 140, "symbolOffset": 10, "labelOffset": 23.5, "padding": 5, "rowPadding": 8, "clipHeight": 20, "fillColor": "#ffffff", "strokeColor": "#d4d4d4", "cornerRadius": 4, "zindex": 1}}
           }},
          {"data": {"name": "mayo_symh_ajuste"}, "mark": {"type": "line", "strokeWidth": 4.5, "clip": true, "interpolate": "monotone"},
           "encoding": {
             "x": {"field": "day", "type": "quantitative", "scale": {"domain": [26.044, 28.058], "nice": false, "zero": false}},
             "y": {"field": "nT", "type": "quantitative", "scale": {"domain": [0, 80], "nice": false}},
             "stroke": {"datum": "Ajuste SYM-H", "type": "nominal", "scale": {"domain": ["Ajuste SYM-H", "Ajuste Dst"], "range": ["#00008b", "#ffb6c1"]},
               "legend": {"orient": "none", "legendX": 3, "legendY": 37, "title": null, "symbolType": "stroke", "symbolSize": 1849, "symbolStrokeWidth": 5, "symbolOffset": 0, "padding": 5, "rowPadding": 36, "clipHeight": 20, "labelExpr": "''", "zindex": 2}}
           }}
        ]},
        {"layer": [
          {"data": {"name": "mayo_dst"}, "mark": {"type": "circle", "size": 130, "opacity": 1},
           "encoding": {
             "x": {"field": "day", "type": "quantitative", "scale": {"domain": [26.044, 28.058], "nice": false, "zero": false}},
             "y": {"field": "nT", "type": "quantitative", "scale": {"domain": [0, 80], "nice": false}, "axis": {"orient": "left", "title": "Dst Index [nT]", "values": [0, 10, 20, 30, 40, 50, 60, 70, 80], "grid": true, "titleAngle": 270, "titleX": -57, "titleY": 245.5, "titleBaseline": "middle"}},
             "color": {"datum": "Dst", "type": "nominal"}
           }},
          {"data": {"name": "mayo_dst_ajuste"}, "mark": {"type": "line", "strokeWidth": 4, "clip": true, "interpolate": "monotone"},
           "encoding": {
             "x": {"field": "day", "type": "quantitative", "scale": {"domain": [26.044, 28.058], "nice": false, "zero": false}},
             "y": {"field": "nT", "type": "quantitative", "scale": {"domain": [0, 80], "nice": false}},
             "stroke": {"datum": "Ajuste Dst", "type": "nominal"}
           }}
        ]}
      ],
      "resolve": {"scale": {"y": "independent"}}
    },
    {
      "width": 643, "height": 492,
      "title": {"text": "Fase inicial de la tormenta geomagnética del 07 de septiembre de 2017", "fontSize": 21.7},
      "layer": [
        {"layer": [
          {"data": {"name": "sept_symh"}, "mark": {"type": "circle", "size": 130, "opacity": 1},
           "encoding": {
             "x": {"field": "day", "type": "quantitative", "scale": {"domain": [7.478, 7.929], "nice": false, "zero": false}, "axis": {"title": "Day", "values": [7.5, 7.6, 7.7, 7.8, 7.9], "format": ".1f", "grid": false, "titleX": 322, "titleY": 41, "titleBaseline": "middle", "titleFontSize": 19}},
             "y": {"field": "nT", "type": "quantitative", "scale": {"domain": [0, 80], "nice": false}, "axis": {"orient": "right", "title": "SYM-H [nT]", "values": [0, 10, 20, 30, 40, 50, 60, 70, 80], "grid": false, "titleAngle": 270, "titleX": 50, "titleY": 246, "titleBaseline": "middle"}},
             "color": {"datum": "SYM-H", "type": "nominal", "scale": {"domain": ["SYM-H", "Ajuste SYM-H", "Dst", "Ajuste Dst"], "range": ["#9370db", "transparent", "#db7093", "transparent"]},
               "legend": {"orient": "none", "legendX": 8, "legendY": 9, "title": null, "symbolType": "circle", "symbolSize": 140, "symbolOffset": 10, "labelOffset": 23.5, "padding": 5, "rowPadding": 8, "clipHeight": 20, "fillColor": "#ffffff", "strokeColor": "#d4d4d4", "cornerRadius": 4, "zindex": 1}}
           }},
          {"data": {"name": "sept_symh_ajuste"}, "mark": {"type": "line", "strokeWidth": 4.5, "clip": true, "interpolate": "monotone"},
           "encoding": {
             "x": {"field": "day", "type": "quantitative", "scale": {"domain": [7.478, 7.929], "nice": false, "zero": false}},
             "y": {"field": "nT", "type": "quantitative", "scale": {"domain": [0, 80], "nice": false}},
             "stroke": {"datum": "Ajuste SYM-H", "type": "nominal", "scale": {"domain": ["Ajuste SYM-H", "Ajuste Dst"], "range": ["#00008b", "#ffb6c1"]},
               "legend": {"orient": "none", "legendX": 3, "legendY": 37, "title": null, "symbolType": "stroke", "symbolSize": 1849, "symbolStrokeWidth": 5, "symbolOffset": 0, "padding": 5, "rowPadding": 36, "clipHeight": 20, "labelExpr": "''", "zindex": 2}}
           }}
        ]},
        {"layer": [
          {"data": {"name": "sept_dst"}, "mark": {"type": "circle", "size": 130, "opacity": 1},
           "encoding": {
             "x": {"field": "day", "type": "quantitative", "scale": {"domain": [7.478, 7.929], "nice": false, "zero": false}},
             "y": {"field": "nT", "type": "quantitative", "scale": {"domain": [0, 80], "nice": false}, "axis": {"orient": "left", "title": "Dst Index [nT]", "values": [0, 10, 20, 30, 40, 50, 60, 70, 80], "grid": true, "titleAngle": 270, "titleX": -51, "titleY": 246, "titleBaseline": "middle"}},
             "color": {"datum": "Dst", "type": "nominal"}
           }},
          {"data": {"name": "sept_dst_ajuste"}, "mark": {"type": "line", "strokeWidth": 4, "clip": true},
           "encoding": {
             "x": {"field": "day", "type": "quantitative", "scale": {"domain": [7.478, 7.929], "nice": false, "zero": false}},
             "y": {"field": "nT", "type": "quantitative", "scale": {"domain": [0, 80], "nice": false}},
             "stroke": {"datum": "Ajuste Dst", "type": "nominal"}
           }}
        ]}
      ],
      "resolve": {"scale": {"y": "independent"}}
    },
    {
      "width": 660, "height": 474,
      "title": "Fase inicial de la tormenta geomagnética del 25 de agosto de 2018",
      "layer": [
        {"layer": [
          {"data": {"name": "ago_symh"}, "mark": {"type": "circle", "size": 130, "opacity": 1},
           "encoding": {
             "x": {"field": "day", "type": "quantitative", "scale": {"domain": [25.1376, 25.78], "nice": false, "zero": false}, "axis": {"title": "Day", "values": [25.2, 25.3, 25.4, 25.5, 25.6, 25.7], "format": ".1f", "grid": false, "titleX": 270, "titleY": 40, "titleBaseline": "middle", "titleFontSize": 17}},
             "y": {"field": "nT", "type": "quantitative", "scale": {"domain": [0, 80], "nice": false}, "axis": {"orient": "right", "title": "SYM-H [nT]", "values": [0, 10, 20, 30, 40, 50, 60, 70, 80], "grid": false, "titleAngle": 270, "titleX": 49, "titleY": 237, "titleBaseline": "middle"}},
             "color": {"datum": "SYM-H", "type": "nominal", "scale": {"domain": ["SYM-H", "Ajuste SYM-H", "Dst", "Ajuste Dst"], "range": ["#9370db", "transparent", "#db7093", "transparent"]},
               "legend": {"orient": "none", "legendX": 8, "legendY": 9, "title": null, "symbolType": "circle", "symbolSize": 140, "symbolOffset": 10, "labelOffset": 23.5, "padding": 5, "rowPadding": 8, "clipHeight": 20, "fillColor": "#ffffff", "strokeColor": "#d4d4d4", "cornerRadius": 4, "zindex": 1}}
           }},
          {"data": {"name": "ago_symh_ajuste"}, "mark": {"type": "line", "strokeWidth": 4.5, "clip": true, "interpolate": "monotone"},
           "encoding": {
             "x": {"field": "day", "type": "quantitative", "scale": {"domain": [25.1376, 25.78], "nice": false, "zero": false}},
             "y": {"field": "nT", "type": "quantitative", "scale": {"domain": [0, 80], "nice": false}},
             "stroke": {"datum": "Ajuste SYM-H", "type": "nominal", "scale": {"domain": ["Ajuste SYM-H", "Ajuste Dst"], "range": ["#00008b", "#ffb6c1"]},
               "legend": {"orient": "none", "legendX": 3, "legendY": 37, "title": null, "symbolType": "stroke", "symbolSize": 1849, "symbolStrokeWidth": 5, "symbolOffset": 0, "padding": 5, "rowPadding": 36, "clipHeight": 20, "labelExpr": "''", "zindex": 2}}
           }}
        ]},
        {"layer": [
          {"data": {"name": "ago_dst"}, "mark": {"type": "circle", "size": 130, "opacity": 1},
           "encoding": {
             "x": {"field": "day", "type": "quantitative", "scale": {"domain": [25.1376, 25.78], "nice": false, "zero": false}},
             "y": {"field": "nT", "type": "quantitative", "scale": {"domain": [0, 80], "nice": false}, "axis": {"orient": "left", "title": "Dst Index [nT]", "values": [0, 10, 20, 30, 40, 50, 60, 70, 80], "grid": true, "titleAngle": 270, "titleX": -56, "titleY": 237, "titleBaseline": "middle"}},
             "color": {"datum": "Dst", "type": "nominal"}
           }},
          {"data": {"name": "ago_dst_ajuste"}, "mark": {"type": "line", "strokeWidth": 4, "clip": true, "interpolate": "monotone"},
           "encoding": {
             "x": {"field": "day", "type": "quantitative", "scale": {"domain": [25.1376, 25.78], "nice": false, "zero": false}},
             "y": {"field": "nT", "type": "quantitative", "scale": {"domain": [0, 80], "nice": false}},
             "stroke": {"datum": "Ajuste Dst", "type": "nominal"}
           }}
        ]}
      ],
      "resolve": {"scale": {"y": "independent"}}
    }
  ]
}
